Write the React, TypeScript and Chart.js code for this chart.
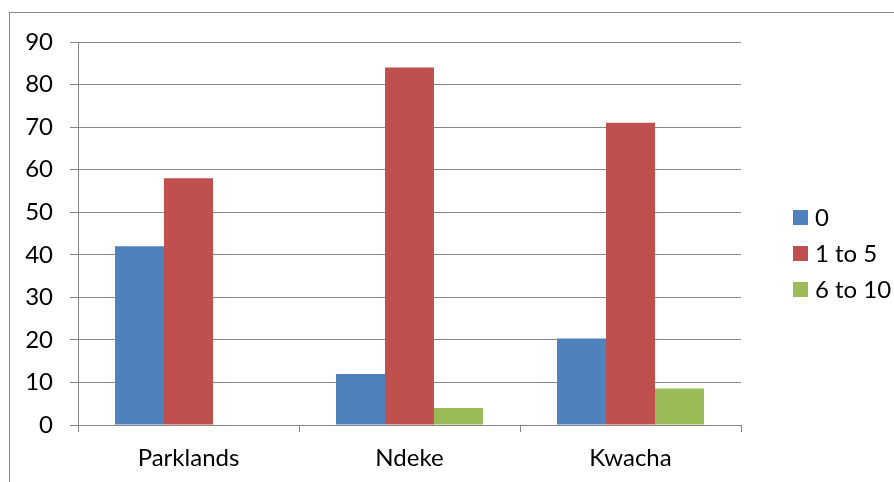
import React, { useEffect, useRef } from "react";
import { Chart, registerables } from "chart.js";

Chart.register(...registerables);

const categories = ["Parklands", "Ndeke", "Kwacha"];
const seriesNames = ["0", "1 to 5", "6 to 10"];
const zeroValues = [42, 12, 20.3];
const oneToFiveValues = [58, 84, 71];
const sixToTenValues = [0, 4, 8.6];
const seriesColors = ["#4F81BD", "#C0504D", "#9BBB59"];
const yTicks = [0, 10, 20, 30, 40, 50, 60, 70, 80, 90];

const FONT = "Lato, 'Open Sans', sans-serif";
const FONT_SIZE = 24;

const framePlugin = {
  id: "frame",
  beforeDraw(chart: any) {
    const ctx = chart.ctx;
    ctx.save();
    ctx.fillStyle = "#ffffff";
    ctx.fillRect(0, 0, chart.width, chart.height);
    ctx.strokeStyle = "#888888";
    ctx.lineWidth = 1;
    ctx.strokeRect(9.5, 12.5, 2000, 2000);
    ctx.restore();
  },
  afterDraw(chart: any) {
    const ctx = chart.ctx;
    ctx.save();
    ctx.font = `${FONT_SIZE}px ${FONT}`;
    ctx.textBaseline = "middle";
    ctx.textAlign = "left";
    chart.data.datasets.forEach((ds: any, i: number) => {
      const y = 210 + i * 36;
      ctx.fillStyle = ds.backgroundColor;
      ctx.fillRect(793, y, 15, 15);
      ctx.fillStyle = "#000000";
      ctx.fillText(ds.label, 815, y + 8);
    });
    ctx.restore();
  },
};

export default function App() {
  const ref = useRef<HTMLCanvasElement>(null);
  useEffect(() => {
    const values = [zeroValues, oneToFiveValues, sixToTenValues];
    const chart = new Chart(ref.current!, {
      type: "bar",
      data: {
        labels: categories,
        datasets: seriesNames.map((name, i) => ({
          label: name,
          data: values[i],
          backgroundColor: seriesColors[i],
          borderWidth: 0,
          barPercentage: 1,
          categoryPercentage: 0.665,
        })),
      },
      options: {
        animation: false,
        responsive: false,
        devicePixelRatio: 1,
        layout: { padding: { left: 0, top: 42, right: 153, bottom: 0 } },
        plugins: { legend: { display: false }, tooltip: { enabled: false } },
        scales: {
          x: {
            grid: {
              display: true,
              drawOnChartArea: false,
              drawTicks: true,
              tickLength: 7,
              color: "#868686",
              offset: true,
            },
            border: { display: true, color: "#868686" },
            ticks: {
              color: "#000000",
              font: { family: FONT, size: FONT_SIZE },
              padding: 12,
            },
            afterFit(scale: any) {
              scale.height = 57;
            },
          },
          y: {
            min: 0,
            max: 90,
            afterBuildTicks(scale: any) {
              scale.ticks = yTicks.map((v) => ({ value: v }));
            },
            grid: {
              color: "#868686",
              tickLength: 8,
              drawTicks: true,
            },
            border: { display: true, color: "#868686" },
            ticks: {
              color: "#000000",
              font: { family: FONT, size: FONT_SIZE },
              padding: 17,
            },
            afterFit(scale: any) {
              scale.width = 78;
            },
          },
        },
      },
      plugins: [framePlugin],
    });
    return () => chart.destroy();
  }, []);
  return (
    <div style={{ position: "fixed", left: 0, top: 0, width: 894, height: 482 }}>
      <canvas ref={ref} width={894} height={482} style={{ display: "block" }} />
    </div>
  );
}
